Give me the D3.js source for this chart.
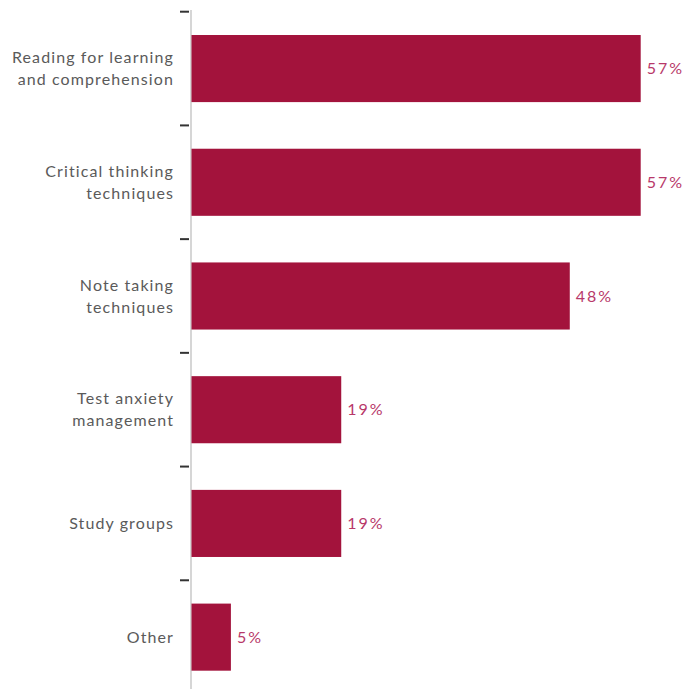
<!DOCTYPE html>
<html><head><meta charset="utf-8">
<script src="https://cdn.jsdelivr.net/npm/d3@7"></script>
<style>body{margin:0;background:#fff}svg{display:block}</style>
</head><body>
<svg id="c" width="686" height="689"></svg>
<script>
const categories = [
  ["Reading for learning", "and comprehension"],
  ["Critical thinking", "techniques"],
  ["Note taking", "techniques"],
  ["Test anxiety", "management"],
  ["Study groups"],
  ["Other"]
];
const values = [57, 57, 48, 19, 19, 5];
const valueLabels = ["57%", "57%", "48%", "19%", "19%", "5%"];

const svg = d3.select("#c");
const x0 = 191.5;
const x = d3.scaleLinear().domain([0, 57]).range([x0, 640.7]);
const y = d3.scaleBand().domain(d3.range(categories.length)).range([11.7, 694]).paddingInner(0.41).paddingOuter(0.205);
const step = y.step();

// axis line
svg.append("line").attr("x1", x0 - 0.5).attr("x2", x0 - 0.5).attr("y1", 10).attr("y2", 689)
  .attr("stroke", "#c8c8c8").attr("stroke-width", 1.5);

// tick marks at band boundaries
svg.selectAll("line.tick").data(d3.range(categories.length)).join("line")
  .attr("class", "tick")
  .attr("x1", 180).attr("x2", 189)
  .attr("y1", i => 11.7 + i * step).attr("y2", i => 11.7 + i * step)
  .attr("stroke", "#333").attr("stroke-width", 2);

svg.selectAll("rect.bar").data(values).join("rect")
  .attr("class", "bar")
  .attr("x", x0).attr("y", (d, i) => y(i))
  .attr("width", d => x(d) - x0).attr("height", y.bandwidth())
  .attr("fill", "#a3133c");

svg.selectAll("text.val").data(values).join("text")
  .attr("class", "val")
  .attr("x", d => x(d) + 6).attr("y", (d, i) => y(i) + y.bandwidth() / 2)
  .attr("dy", "0.35em")
  .attr("font-family", "Lato, sans-serif").attr("font-size", 16)
  .attr("letter-spacing", 2)
  .attr("fill", "#b8386a")
  .text((d, i) => valueLabels[i]);

const lab = svg.selectAll("text.cat").data(categories).join("text")
  .attr("class", "cat")
  .attr("text-anchor", "end")
  .attr("font-family", "Lato, sans-serif").attr("font-size", 16)
  .attr("letter-spacing", 1.1)
  .attr("fill", "#5a5a5a");
lab.each(function(lines, i) {
  const cy = y(i) + y.bandwidth() / 2;
  const lh = 22;
  const start = cy - (lines.length - 1) * lh / 2;
  d3.select(this).selectAll("tspan").data(lines).join("tspan")
    .attr("x", 174).attr("y", (l, j) => start + j * lh).attr("dy", "0.35em")
    .text(l => l);
});
</script>
</body></html>
